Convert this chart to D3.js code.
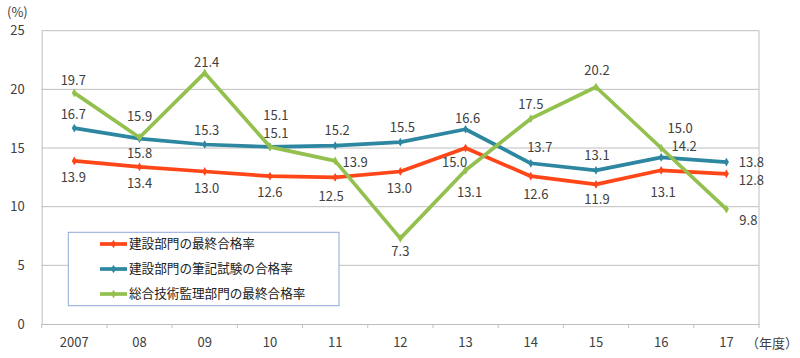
<!DOCTYPE html>
<html><head><meta charset="utf-8">
<script src="https://cdn.jsdelivr.net/npm/d3@7/dist/d3.min.js"></script>
<style>
html,body{margin:0;padding:0;background:#fff;}
svg{display:block;font-family:"Noto Sans CJK JP","Noto Sans",sans-serif;}
</style></head>
<body>
<svg id="chart" width="800" height="358"></svg>
<script>
// ---- data ----
const years = ["2007","08","09","10","11","12","13","14","15","16","17"];
const seriesNames = ["建設部門の最終合格率","建設部門の筆記試験の合格率","総合技術監理部門の最終合格率"];
const redValues   = [13.9,13.4,13.0,12.6,12.5,13.0,15.0,12.6,11.9,13.1,12.8];
const blueValues  = [16.7,15.8,15.3,15.1,15.2,15.5,16.6,13.7,13.1,14.2,13.8];
const greenValues = [19.7,15.9,21.4,15.1,13.9,7.3,13.1,17.5,20.2,15.0,9.8];
const yTicks = [0,5,10,15,20,25];
const yUnit = "(%)";
const xUnit = "（年度）";

// ---- layout (label offsets relative to each point) ----
const redOff   = [[-1,17],[0,17],[2,17],[0,16],[-4,19],[-1,17],[-11,14],[5,18],[1,15],[2,22],[25,7]];
const blueOff  = [[-1,-14],[0,15],[2,-14],[6,-13],[2,-15],[2,-15],[2,-11],[9,-16],[1,-15],[23,-11],[25,0]];
const greenOff = [[-1,-12],[0,-21],[2,-10],[6,-31],[20,2],[0,13],[4,22],[0,-14],[1,-17],[19,-20],[22,11]];
const colors = ["#FF4619","#2E87A1","#93C04E"];

const series = [
  {name:seriesNames[0], values:redValues, off:redOff, color:colors[0]},
  {name:seriesNames[1], values:blueValues, off:blueOff, color:colors[1]},
  {name:seriesNames[2], values:greenValues, off:greenOff, color:colors[2]}
];

const L = 41.7, R = 759, T = 30.7, B = 324;
const svg = d3.select("#chart");
const x = d3.scaleBand().domain(years).range([L, R]).paddingInner(0).paddingOuter(0);
const y = d3.scaleLinear().domain([0,25]).range([B, T]);
const cx = d => x(d) + x.bandwidth()/2;
const grid = "#BEBEBE";
const textCol = "#404040";

// gridlines
svg.append("g").selectAll("line").data(yTicks.filter(t=>t>0)).join("line")
  .attr("x1", L).attr("x2", R).attr("y1", d=>y(d)).attr("y2", d=>y(d))
  .attr("stroke", grid).attr("stroke-width", 1);
// right border
svg.append("line").attr("x1",R).attr("x2",R).attr("y1",T).attr("y2",B).attr("stroke",grid);

// y axis
const yAxis = d3.axisLeft(y).tickValues(yTicks).tickSize(0).tickPadding(17);
const gy = svg.append("g").attr("transform",`translate(${L},0)`).call(yAxis);
gy.select(".domain").attr("stroke", grid);
gy.selectAll("text").attr("font-size",13).attr("fill",textCol).attr("font-family",'"Noto Sans CJK JP",sans-serif');

// x axis
const xAxis = d3.axisBottom(x).tickSize(0).tickPadding(14);
const gx = svg.append("g").attr("transform",`translate(0,${B})`).call(xAxis);
gx.select(".domain").attr("stroke", grid);
gx.selectAll("text").attr("font-size",13).attr("fill",textCol).attr("font-family",'"Noto Sans CJK JP",sans-serif');
// boundary tick marks
const bounds = years.map(d=>x(d)).concat([R]);
svg.append("g").selectAll("line").data(bounds).join("line")
  .attr("x1",d=>d).attr("x2",d=>d).attr("y1",B).attr("y2",B+4)
  .attr("stroke",grid);

// unit labels
svg.append("text").attr("x",7).attr("y",12).attr("dy","0.35em").attr("font-size",13).attr("fill",textCol).text(yUnit);
svg.append("text").attr("x",746).attr("y",343).attr("dy","0.35em").attr("font-size",13).attr("fill",textCol).text(xUnit);

// lines
const line = d3.line().x((d,i)=>cx(years[i])).y(d=>y(d));
const diamond = d3.symbol().type(d3.symbolDiamond).size(22);
series.forEach(s=>{
  const g = svg.append("g");
  g.append("path").datum(s.values).attr("d", line).attr("fill","none")
    .attr("stroke", s.color).attr("stroke-width", 3.7).attr("stroke-linejoin","round");
  g.selectAll("path.m").data(s.values).join("path").attr("class","m")
    .attr("d", diamond).attr("fill", s.color)
    .attr("transform",(d,i)=>`translate(${cx(years[i])},${y(d)})`);
});
// data labels
series.forEach(s=>{
  svg.append("g").selectAll("text").data(s.values).join("text")
    .attr("x",(d,i)=>cx(years[i]) + s.off[i][0])
    .attr("y",(d,i)=>y(d) + s.off[i][1])
    .attr("dy","0.35em").attr("text-anchor","middle")
    .attr("font-size",13).attr("fill",textCol)
    .text(d=>d.toFixed(1));
});

// legend
const lg = svg.append("g");
lg.append("rect").attr("x",68.3).attr("y",232.3).attr("width",270.7).attr("height",73.4)
  .attr("fill","#fff").attr("stroke","#8EA9D6").attr("stroke-width",1);
series.forEach((s,i)=>{
  const yy = 244 + i*25;
  lg.append("line").attr("x1",100).attr("x2",127).attr("y1",yy).attr("y2",yy)
    .attr("stroke",s.color).attr("stroke-width",3.7);
  lg.append("path").attr("d",diamond).attr("fill",s.color).attr("transform",`translate(113.5,${yy})`);
  lg.append("text").attr("x",129).attr("y",yy).attr("dy","0.35em")
    .attr("font-size",12.6).attr("fill","#202020").text(s.name);
});
</script>
</body></html>
